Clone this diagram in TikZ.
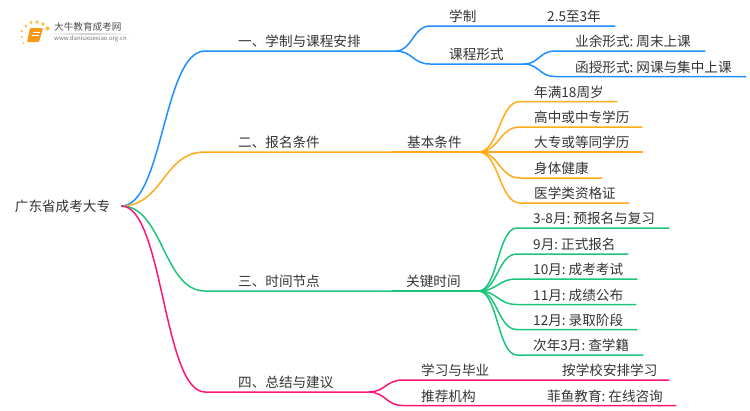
\documentclass[tikz,border=0pt]{standalone}
\usepackage{fontspec}
\setmainfont{Noto Sans CJK SC}
\usetikzlibrary{calc}
\definecolor{ink}{HTML}{333333}
\definecolor{skyb}{HTML}{1E90FF}
\definecolor{amber}{HTML}{FFAB1A}
\definecolor{leaf}{HTML}{1CC47C}
\definecolor{rose}{HTML}{FF1577}
\definecolor{bookor}{HTML}{F59A12}
\definecolor{dotor}{HTML}{FBC04A}
\newcommand{\cln}{:\kern-1.5pt\ }

\begin{document}
\begin{tikzpicture}[
  x=1pt, y=-1pt,
  font=\fontsize{13.6}{15}\selectfont,
  text=ink,
  tag/.style 2 args={anchor=south west, inner xsep=0pt, inner ysep=1pt,
    text width=#1pt, align=left, text height=10pt, text depth=3pt,
    execute at begin node={\hspace*{#2pt}}},
  link/.style={to path={let \p1=(\tikztostart), \p2=(\tikztotarget) in
    .. controls ({0.5*\x1+0.5*\x2},\y1) and ({0.5*\x1+0.5*\x2},\y2) .. (\tikztotarget)}},
  branch/.style={line width=1.5pt, draw=#1},
]
\useasboundingbox (0,0) rectangle (750,410);

% Logo
\foreach \px/\py/\pr in {26/26/1.5, 31/22.5/1.7, 37/22/1.8, 43/24/1.8, 47.5/28.5/2.2, 22/31/1.3, 22/37/1.1, 23.5/43/1}
  \fill[dotor] (\px,\py) circle (\pr pt);
\fill[bookor, rounded corners=1pt] (30,28) -- (43,28) -- (39,42) -- (27,42) -- cycle;
\draw[white, line width=0.6pt] (33,32) -- (40,32) (32,35) -- (39,35);
\shade[left color=white, right color=white, middle color=black!18] (45,33) rectangle (133,34);
\node[anchor=west, inner sep=0pt, text=black!70, font=\fontsize{9.6}{10}\selectfont] (logoname) at (54,27) {大牛教育成考网};
\node[anchor=west, inner sep=0pt, text=black!55, font=\fontsize{6}{7}\selectfont] (logourl) at (54,38.5) {www.daniuxuexiao.org.cn};

% Root
\node[inner xsep=11pt, inner ysep=0pt] (root) at (62.5,206) {广东省成考大专};

% Branches
\node[tag={190}{33}] (plan) at (205,51) {一、学制与课程安排};
\node[tag={187}{33}] (apply) at (205,152) {二、报名条件};
\node[tag={187}{33}] (dates) at (205,291) {三、时间节点};
\node[tag={163}{33}] (tips) at (205,392) {四、总结与建议};

% Blue
\node[tag={95}{19}] (term) at (430,26) {学制};
\node[tag={90}{22}] (termval) at (525,26) {2.5至3年};
\node[tag={93}{19}] (form) at (430,64) {课程形式};
\node[tag={150}{20}] (spare) at (555,51) {业余形式\cln 周末上课};
\node[tag={191}{20}] (corr) at (555,76.5) {函授形式\cln 网课与集中上课};

% Orange
\node[tag={86}{15}] (basic) at (392,152) {基本条件};
\node[tag={97}{14}] (age) at (520,101.5) {年满18周岁};
\node[tag={122}{14}] (school) at (520,127) {高中或中专学历};
\node[tag={123}{14}] (college) at (520,152) {大专或等同学历};
\node[tag={82}{14}] (health) at (520,178) {身体健康};
\node[tag={109}{14}] (medic) at (520,203) {医学类资格证};

% Green
\node[tag={86}{14}] (keyt) at (392,291) {关键时间};
\node[tag={152}{16}] (mar) at (517,228) {3-8月\cln 预报名与复习};
\node[tag={111}{16}] (sep) at (517,254) {9月\cln 正式报名};
\node[tag={120}{16}] (oct) at (517,279) {10月\cln 成考考试};
\node[tag={119}{16}] (nov) at (517,304.5) {11月\cln 成绩公布};
\node[tag={120}{16}] (dec) at (517,329.5) {12月\cln 录取阶段};
\node[tag={126}{16}] (next) at (517,355) {次年3月\cln 查学籍};

% Pink
\node[tag={122}{18}] (study) at (403,380) {学习与毕业};
\node[tag={144}{37}] (studyval) at (525,380) {按学校安排学习};
\node[tag={122}{18}] (org) at (403,405.5) {推荐机构};
\node[tag={151}{22}] (orgval) at (525,405.5) {菲鱼教育\cln 在线咨询};

% Edges root -> branches
\draw[branch=skyb] (root.east) to[link] (plan.south west) -- (plan.south east);
\draw[branch=amber] (root.east) to[link] (apply.south west) -- (apply.south east);
\draw[branch=leaf] (root.east) to[link] (dates.south west) -- (dates.south east);
\draw[branch=rose] (root.east) to[link] (tips.south west) -- (tips.south east);

% Edges blue
\draw[branch=skyb] (plan.south east) to[link] (term.south west) -- (termval.south east);
\draw[branch=skyb] (plan.south east) to[link] (form.south west) -- (form.south east);
\draw[branch=skyb] (form.south east) to[link] (spare.south west) -- (spare.south east);
\draw[branch=skyb] (form.south east) to[link] (corr.south west) -- (corr.south east);

% Edges orange
\draw[branch=amber] (apply.south east) -- (basic.south east);
\draw[branch=amber] (basic.south east) to[link] (age.south west) -- (age.south east);
\draw[branch=amber] (basic.south east) to[link] (school.south west) -- (school.south east);
\draw[branch=amber] (basic.south east) to[link] (college.south west) -- (college.south east);
\draw[branch=amber] (basic.south east) to[link] (health.south west) -- (health.south east);
\draw[branch=amber] (basic.south east) to[link] (medic.south west) -- (medic.south east);

% Edges green
\draw[branch=leaf] (dates.south east) -- (keyt.south east);
\draw[branch=leaf] (keyt.south east) to[link] (mar.south west) -- (mar.south east);
\draw[branch=leaf] (keyt.south east) to[link] (sep.south west) -- (sep.south east);
\draw[branch=leaf] (keyt.south east) to[link] (oct.south west) -- (oct.south east);
\draw[branch=leaf] (keyt.south east) to[link] (nov.south west) -- (nov.south east);
\draw[branch=leaf] (keyt.south east) to[link] (dec.south west) -- (dec.south east);
\draw[branch=leaf] (keyt.south east) to[link] (next.south west) -- (next.south east);

% Edges pink
\draw[branch=rose] (tips.south east) to[link] (study.south west) -- (studyval.south east);
\draw[branch=rose] (tips.south east) to[link] (org.south west) -- (orgval.south east);

\end{tikzpicture}
\end{document}
